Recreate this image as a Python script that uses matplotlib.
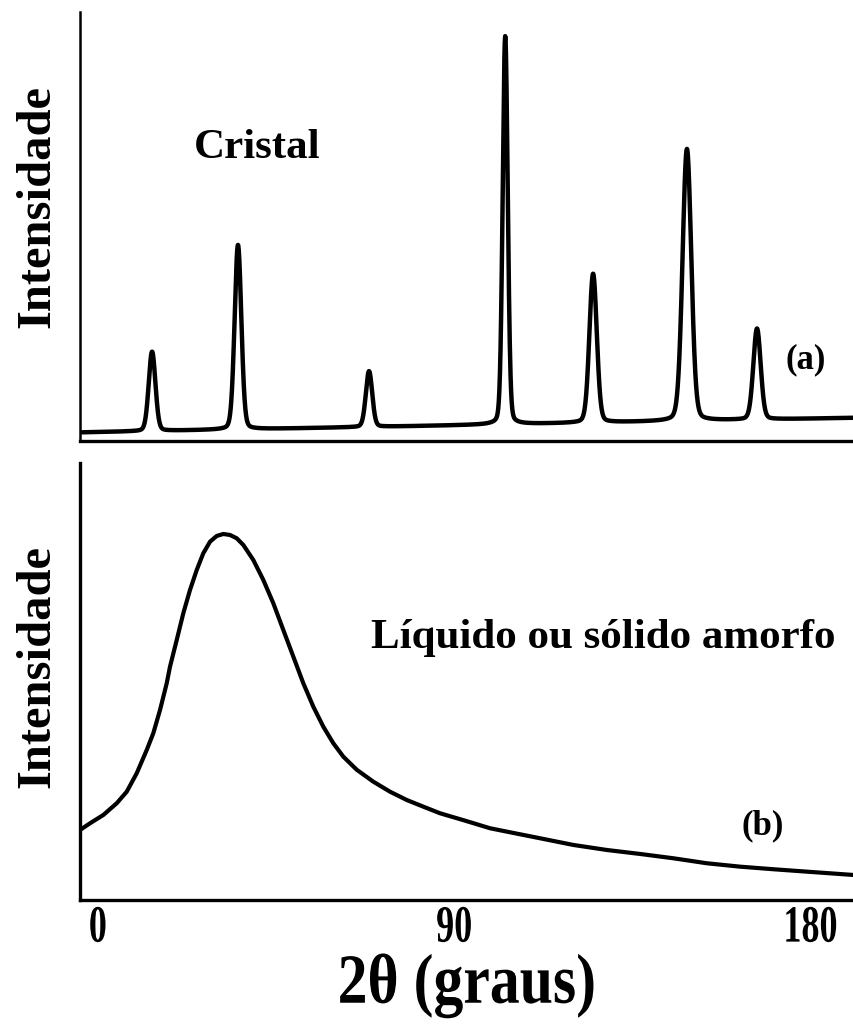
import numpy as np
import matplotlib
matplotlib.use("Agg")
import matplotlib.pyplot as plt
from matplotlib import patheffects
from matplotlib.transforms import Affine2D

# --- Crystal pattern: baseline + diffraction peaks (2theta in degrees) ---
PEAK_POS = [13.7, 35.4, 68.5, 102.9, 125.1, 148.8, 166.5]
PEAK_HEIGHT = [18.5, 43.0, 13.0, 90.5, 34.7, 63.4, 21.2]
PEAK_FWHM = [2.0, 2.0, 1.9, 1.5, 2.2, 2.6, 2.2]
BASELINE_ENDS = [2.0, 5.4]

# --- Amorphous / liquid pattern: single broad halo ---
AMORPH_X = [-4.50, -1.97, 1.39, 4.77, 7.30, 9.82, 12.35, 14.01, 15.71, 17.40,
            18.23, 19.93, 21.59, 23.28, 24.98, 26.64, 28.34, 30.03, 31.70,
            33.39, 35.08, 36.75, 39.27, 41.80, 44.33, 46.85, 49.38, 51.90,
            54.43, 56.95, 59.48, 62.01, 65.39, 69.58, 73.80, 78.02, 82.21,
            86.43, 92.75, 99.06, 105.38, 111.69, 120.10, 128.54, 136.95,
            145.36, 153.80, 162.21, 170.62, 179.06, 190.83]
AMORPH_Y = [16.02, 17.55, 19.45, 22.13, 24.78, 28.99, 34.32, 38.15, 43.48, 49.59,
            53.39, 59.50, 65.61, 70.94, 75.51, 79.34, 81.99, 83.30, 83.75,
            83.52, 82.77, 81.24, 77.80, 73.23, 67.89, 61.78, 55.68, 49.59,
            44.23, 39.66, 35.86, 32.79, 29.80, 27.07, 24.78, 22.88, 21.35,
            19.84, 18.15, 16.41, 15.26, 14.12, 12.59, 11.44, 10.53,
            9.54, 8.40, 7.62, 7.03, 6.48, 5.72]

X_TICKS = [0, 90, 180]
X_LIMITS = (-4.5, 191)

plt.rcParams['font.family'] = ['Liberation Serif', 'DejaVu Serif']
plt.rcParams['font.weight'] = 'bold'


class VStretch(patheffects.AbstractPathEffect):
    """Stretch glyphs vertically about the text origin (tall, narrow lettering)."""

    def __init__(self, sy):
        super().__init__()
        self._sy = sy

    def draw_path(self, renderer, gc, tpath, affine, rgbFace=None):
        x0, y0 = affine.transform((0, 0))
        affine = affine + Affine2D().translate(-x0, -y0).scale(1, self._sy).translate(x0, y0)
        renderer.draw_path(gc, tpath, affine, rgbFace)


def crystal_profile(x):
    """Pseudo-Voigt peaks on a sloping baseline."""
    y = np.interp(x, X_LIMITS, BASELINE_ENDS)
    eta = 0.15
    for pos, h, fw in zip(PEAK_POS, PEAK_HEIGHT, PEAK_FWHM):
        sig = fw / 2.355
        g = np.exp(-0.5 * ((x - pos) / sig) ** 2)
        lor = 1.0 / (1.0 + ((x - pos) / (fw / 2)) ** 2)
        y = y + h * ((1 - eta) * g + eta * lor)
    return y


def style_axis(ax, left_lw):
    for side in ['top', 'right']:
        ax.spines[side].set_visible(False)
    ax.spines['left'].set_linewidth(left_lw)
    ax.spines['bottom'].set_linewidth(2.4)
    ax.set_xlim(*X_LIMITS)
    ax.set_ylim(0, 100)
    ax.set_yticks([])
    ax.set_ylabel('Intensidade', fontsize=35, fontweight='bold')


fig = plt.figure(figsize=(8.54, 10.27), dpi=100)
ax_top = fig.add_axes([0.0937, 0.5706, 0.9063, 0.4177])
ax_bot = fig.add_axes([0.0937, 0.1237, 0.9063, 0.4255])

# top panel
xs = np.linspace(-4.0, 191, 4000)
ax_top.plot(xs, crystal_profile(xs), color='black', lw=3.2,
            solid_joinstyle='round', solid_capstyle='round')
style_axis(ax_top, 1.8)
ax_top.set_xticks([])
ax_top.text(0.229, 0.683, 'Cristal', transform=ax_top.transAxes,
            fontsize=31, fontweight='bold', ha='center', va='center')
ax_top.text(0.938, 0.189, '(a)', transform=ax_top.transAxes,
            fontsize=25, fontweight='bold', ha='center', va='center')

# bottom panel
ax_bot.plot(AMORPH_X, AMORPH_Y, color='black', lw=3.0,
            solid_joinstyle='round', solid_capstyle='round')
style_axis(ax_bot, 2.4)
ax_bot.set_xticks(X_TICKS)
ax_bot.set_xticklabels([str(t) for t in X_TICKS])
ax_bot.tick_params(axis='x', length=0, pad=12, labelsize=26)
for lbl in ax_bot.get_xticklabels():
    lbl.set_fontweight('bold')
    lbl.set_path_effects([VStretch(1.45)])
xl = ax_bot.set_xlabel('2θ (graus)', fontsize=43, fontweight='bold', labelpad=8)
xl.set_path_effects([VStretch(1.18)])
ax_bot.text(0.676, 0.600, 'Líquido ou sólido amorfo', transform=ax_bot.transAxes,
            fontsize=31, fontweight='bold', ha='center', va='center')
ax_bot.text(0.882, 0.169, '(b)', transform=ax_bot.transAxes,
            fontsize=25, fontweight='bold', ha='center', va='center')

ax_top.yaxis.set_label_coords(-0.027, 0.547)
ax_bot.yaxis.set_label_coords(-0.027, 0.534)

fig.savefig('out.png', dpi=100)
